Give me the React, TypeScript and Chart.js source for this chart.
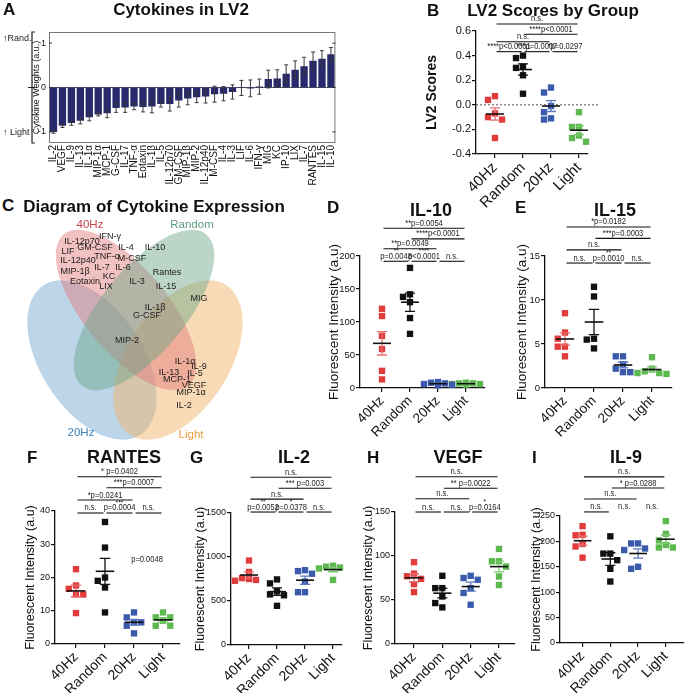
import React, { useEffect, useRef } from "react";
import { Chart, registerables } from "chart.js";

Chart.register(...registerables);

const FONT = '"Liberation Sans", Arial, Helvetica, sans-serif';
Chart.defaults.font.family = FONT;
Chart.defaults.color = "#111";

const GROUPS = ["40Hz", "Random", "20Hz", "Light"];
const GROUP_COLORS = ["#e23b3b", "#111111", "#3a5aab", "#5cb84f"];
const ERROR_COLORS = ["#e86e6e", "#111111", "#5b79c2", "#7ccb70"];

// ---------- Panel A: Cytokines in LV2 ----------
const cytokines = [
  "IL-2", "VEGF", "IL-9", "IL-13", "IL-1α", "MIP-1α", "MCP-1", "G-CSF", "IL-17", "TNF-α",
  "Eotaxin", "IL-1β", "IL-5", "IL-12p70", "GM-CSF", "MIP-1β", "MIP-2", "IL-12p40", "M-CSF", "IL-4",
  "IL-3", "LIF", "IL-6", "IFN-γ", "MIG", "KC", "IP-10", "LIX", "IL-7", "RANTES", "IL-15", "IL-10",
];
const lv2Weights = [
  -1.0, -0.86, -0.8, -0.75, -0.67, -0.61, -0.58, -0.46, -0.45, -0.43,
  -0.44, -0.43, -0.37, -0.37, -0.29, -0.25, -0.22, -0.2, -0.15, -0.14,
  -0.1, -0.01, -0.02, 0.02, 0.19, 0.2, 0.31, 0.4, 0.48, 0.6, 0.65, 0.75,
];
const lv2WeightErrors = [
  0.03, 0.04, 0.05, 0.07, 0.08, 0.03, 0.1, 0.1, 0.11, 0.07,
  0.11, 0.14, 0.07, 0.16, 0.15, 0.14, 0.12, 0.15, 0.18, 0.16,
  0.16, 0.17, 0.19, 0.17, 0.2, 0.2, 0.2, 0.2, 0.2, 0.2, 0.18, 0.15,
];
const weightTicks = [-1, 0, 1];

// ---------- Panel B: LV2 scores ----------
const lv2Scores = [
  [0.04, 0.07, -0.07, -0.1, -0.12, -0.27],
  [0.38, 0.4, 0.3, 0.31, 0.24, 0.09],
  [0.14, 0.1, -0.01, -0.12, -0.11, -0.06],
  [-0.06, -0.18, -0.18, -0.25, -0.27, -0.3],
];
const lv2Brackets = [
  [0, 3, 0.657, "n.s."],
  [1, 3, 0.573, "****p<0.0001"],
  [0, 2, 0.513, "n.s."],
  [0, 1, 0.432, "****p<0.0001"],
  [1, 2, 0.432, "***p=0.0007"],
  [2, 3, 0.432, "*p=0.0297"],
];

// ---------- Panel D: IL-10 ----------
const il10Values = [
  [120, 109, 79, 59, 26, 13],
  [182, 142, 138, 130, 106, 82],
  [9, 7, 6, 5, 8, 4],
  [8, 7, 6, 7, 5, 6],
];
const il10Brackets = [
  [0, 3, 242, "**p=0.0054"],
  [1, 3, 226, "****p<0.0001"],
  [0, 2, 211, "**p=0.0049"],
  [0, 1, 192, "p=0.0048", "**"],
  [1, 2, 192, "p<0.0001", "****"],
  [2, 3, 192, "n.s."],
];

// ---------- Panel E: IL-15 ----------
const il15Values = [
  [8.5, 6.3, 5.6, 4.7, 4.7, 3.6],
  [11.5, 10.4, 5.6, 5.5, 4.5],
  [3.6, 3.6, 2.7, 1.8, 1.8, 2.2],
  [3.5, 2.2, 1.9, 1.7, 1.7, 1.6],
];
const il15Brackets = [
  [0, 3, 18.3, "*p=0.0182"],
  [1, 3, 17.0, "***p=0.0003"],
  [0, 2, 15.7, "n.s."],
  [0, 1, 14.2, "n.s."],
  [1, 2, 14.2, "p=0.0010", "**"],
  [2, 3, 14.2, "n.s."],
];

// ---------- Panel F: RANTES ----------
const rantesValues = [
  [22.5, 16.6, 17.6, 14.9, 14.9, 9.3],
  [36.7, 29, 19, 20, 17, 9.5],
  [9.5, 8, 6.5, 6.5, 5.5, 3.2],
  [9.5, 8, 8, 7, 5.5, 5.5],
];
const rantesBrackets = [
  [0, 3, 50.3, "* p=0.0402"],
  [1, 3, 47.0, "***p=0.0007"],
  [0, 2, 43.3, "*p=0.0241"],
  [0, 1, 39.4, "n.s."],
  [1, 2, 39.4, "p=0.0004", "***"],
  [2, 3, 39.4, "n.s."],
];
const rantesNotes = [[2.45, 25.6, "p=0.0048"]];

// ---------- Panel G: IL-2 ----------
const il2Values = [
  [960, 830, 760, 750, 740, 730],
  [745, 700, 610, 575, 565, 445],
  [840, 850, 810, 720, 600, 600],
  [900, 890, 880, 870, 860, 740],
];
const il2Brackets = [
  [0, 3, 1906, "n.s."],
  [1, 3, 1782, "*** p=0.003"],
  [0, 2, 1658, "n.s."],
  [0, 1, 1511, "p=0.0052", "**"],
  [1, 2, 1511, "p=0.0378", "*"],
  [2, 3, 1511, "n.s."],
];

// ---------- Panel H: VEGF ----------
const vegfValues = [
  [93, 80, 77, 74, 68, 59],
  [77.5, 63.5, 63.5, 54, 46.5, 41.6],
  [73, 75, 77.5, 63.5, 58, 44.6],
  [108, 94, 94, 88, 76.7, 67],
];
const vegfBrackets = [
  [0, 3, 190, "n.s."],
  [1, 3, 177, "** p=0.0022"],
  [0, 2, 165, "n.s."],
  [0, 1, 150, "n.s."],
  [1, 2, 150, "n.s."],
  [2, 3, 150, "p=0.0164", "*"],
];

// ---------- Panel I: IL-9 ----------
const il9Values = [
  [230, 213, 212, 195, 190, 168],
  [210, 176, 176, 163, 146, 121],
  [186, 196, 196, 183, 146, 150],
  [240, 215, 188, 188, 193, 202],
];
const il9Brackets = [
  [0, 3, 327, "n.s."],
  [1, 3, 305, "* p=0.0288"],
  [0, 2, 283.5, "n.s."],
  [0, 1, 258, "n.s."],
  [1, 2, 258, "n.s.", "", true],
  [2, 3, 258, "n.s.", "", true],
];

// ---------- Panel C: Venn diagram ----------
const vennSetNames = ["40Hz", "Random", "20Hz", "Light"];
const vennCytokines = [
  ["IL-12p70", 82, 27], ["IFN-γ", 110, 22], ["GM-CSF", 95, 33], ["LIF", 68, 37],
  ["IL-4", 126, 33], ["IL-10", 155, 33], ["TNF-α", 107, 42], ["M-CSF", 132, 44],
  ["IL-12p40", 78, 46], ["IL-7", 102, 53], ["IL-6", 123, 53], ["MIP-1β", 75, 57],
  ["Rantes", 167, 58], ["KC", 109, 62], ["Eotaxin", 85, 67], ["LIX", 106, 72],
  ["IL-3", 137, 67], ["IL-15", 166, 72], ["MIG", 199, 84], ["IL-1β", 155, 93],
  ["G-CSF", 147, 101], ["MIP-2", 127, 126], ["IL-1α", 185, 147], ["IL-9", 199, 152],
  ["IL-13", 169, 158], ["IL-5", 195, 159], ["MCP-1", 177, 165], ["VEGF", 194, 171],
  ["MIP-1α", 191, 178], ["IL-2", 184, 191],
];
// geometry of each set: centre x, centre y, semi-major, semi-minor, rotation (deg)
const vennEllipses = [
  [126, 95, 98, 42, 50.5],
  [144, 95, 98, 42, -50.5],
  [92, 145, 89, 51, 57],
  [178, 145, 89, 51, -57],
];
const vennNamePos = [
  [90, 10], [192, 10], [81, 218], [191, 220],
];
const vennFill = [
  "rgba(226,118,120,0.45)",
  "rgba(104,164,134,0.45)",
  "rgba(122,172,212,0.5)",
  "rgba(242,182,110,0.5)",
];
const vennNameColors = ["#c9464a", "#5f9c7f", "#3f7fb8", "#e99a3c"];

// ---------- helpers ----------
function swarm(vals: number[], thr: number, step: number) {
  const order = vals.map((_, i) => i).sort((a, b) => vals[b] - vals[a]);
  const off = new Array(vals.length).fill(0);
  const placed: number[] = [];
  const cands = [0, -step, step, -2 * step, 2 * step];
  for (const i of order) {
    for (const c of cands) {
      const ok = placed.every(
        (j) => Math.abs(vals[j] - vals[i]) >= thr || Math.abs(off[j] - c) >= step * 0.95
      );
      if (ok) {
        off[i] = c;
        break;
      }
    }
    placed.push(i);
  }
  return off;
}

function narrowText(ctx: any, t: string, x: number, y: number, size: number) {
  ctx.save();
  ctx.translate(x, y);
  ctx.scale(0.84, 1);
  ctx.font = `${size}px ${FONT}`;
  ctx.textAlign = "center";
  ctx.textBaseline = "alphabetic";
  ctx.fillText(t, 0, 0);
  ctx.restore();
}

function meanSem(vals: number[]) {
  const n = vals.length;
  const m = vals.reduce((a, b) => a + b, 0) / n;
  const sd = Math.sqrt(vals.reduce((a, b) => a + (b - m) * (b - m), 0) / (n - 1));
  return [m, sd / Math.sqrt(n)];
}

function dotExtras(p: any) {
  return {
    id: "dotExtras",
    beforeDatasetsDraw(chart: any) {
      if (!p.zeroLine) return;
      const { ctx, chartArea } = chart;
      const y0 = chart.scales.y.getPixelForValue(0);
      ctx.save();
      ctx.setLineDash([2, 2]);
      ctx.strokeStyle = "#555";
      ctx.lineWidth = 1;
      ctx.beginPath();
      ctx.moveTo(chartArea.left, y0);
      ctx.lineTo(chartArea.right + 12, y0);
      ctx.stroke();
      ctx.restore();
    },
    afterDraw(chart: any) {
      const { ctx } = chart;
      const xs = chart.scales.x;
      const ys = chart.scales.y;
      ctx.save();
      p.values.forEach((vals: number[], g: number) => {
        const [m, se] = meanSem(vals);
        const x = xs.getPixelForValue(g);
        const half = xs.getPixelForValue(g + 0.32) - x;
        const cap = xs.getPixelForValue(g + 0.18) - x;
        const yM = ys.getPixelForValue(m);
        const yT = ys.getPixelForValue(m + se);
        const yB = ys.getPixelForValue(m - se);
        ctx.strokeStyle = ERROR_COLORS[g];
        ctx.lineWidth = 1.3;
        ctx.beginPath();
        ctx.moveTo(x, yT);
        ctx.lineTo(x, yB);
        ctx.moveTo(x - cap, yT);
        ctx.lineTo(x + cap, yT);
        ctx.moveTo(x - cap, yB);
        ctx.lineTo(x + cap, yB);
        ctx.stroke();
        ctx.strokeStyle = "#111";
        ctx.lineWidth = 1.6;
        ctx.beginPath();
        ctx.moveTo(x - half, yM);
        ctx.lineTo(x + half, yM);
        ctx.stroke();
      });
      ctx.fillStyle = "#222";
      ctx.strokeStyle = "#111";
      ctx.lineWidth = 1.1;
      for (const b of p.brackets) {
        const [a, c, lev, label, stars, noLine] = b;
        const x1 = xs.getPixelForValue(a) + 1.5;
        const x2 = xs.getPixelForValue(c) - 1.5;
        const y = ys.getPixelForValue(lev);
        if (!noLine) {
          ctx.beginPath();
          ctx.moveTo(x1, y);
          ctx.lineTo(x2, y);
          ctx.stroke();
        }
        const cx = (x1 + x2) / 2;
        narrowText(ctx, label, cx, y - 2.5, 9);
        if (stars) narrowText(ctx, stars, cx, y - 8, 8);
      }
      for (const nt of p.notes || []) {
        narrowText(ctx, nt[2], xs.getPixelForValue(nt[0]), ys.getPixelForValue(nt[1]) + 3, 9);
      }
      ctx.restore();
    },
  };
}

function dotPlotConfig(p: any) {
  const spacing = (p.cat3 - p.cat0) / 3;
  const xMin = -(p.cat0 - p.axL) / spacing;
  const xMax = 3 + (p.axR - p.cat3) / spacing;
  const thr = ((p.yMax - p.yMin) * 7) / (p.axB - p.axT);
  const datasets = p.values.map((vals: number[], g: number) => {
    const off = swarm(vals, thr, 0.25);
    return {
      data: vals.map((v, i) => ({ x: g + off[i], y: v })),
      pointStyle: "rect",
      pointRadius: 4.5,
      pointBackgroundColor: GROUP_COLORS[g],
      backgroundColor: GROUP_COLORS[g],
      pointBorderWidth: 0,
      borderWidth: 0,
      clip: false,
    };
  });
  const yTicks: number[] = [];
  const nT = Math.round((p.yMax - p.yMin) / p.yStep);
  for (let i = 0; i <= nT; i++) yTicks.push(p.yMin + i * p.yStep);
  const lh = p.yTitleSize * 1.2;
  const axisGrid = {
    display: true,
    drawOnChartArea: false,
    drawTicks: true,
    color: "#111",
    lineWidth: 1.2,
  };
  return {
    type: "scatter",
    data: { datasets },
    options: {
      animation: false,
      responsive: false,
      devicePixelRatio: 1,
      events: [],
      layout: { padding: { left: 0, top: p.axT - p.ct, right: p.cl + p.cw - p.axR, bottom: 0 } },
      plugins: { legend: { display: false }, tooltip: { enabled: false } },
      scales: {
        x: {
          type: "linear",
          min: xMin,
          max: xMax,
          afterBuildTicks: (s: any) => {
            s.ticks = [0, 1, 2, 3].map((v) => ({ value: v }));
          },
          afterFit: (s: any) => {
            s.height = p.ct + p.ch - p.axB;
          },
          ticks: {
            autoSkip: false,
            minRotation: 45,
            maxRotation: 45,
            padding: 1,
            color: "#111",
            font: { size: p.xFont },
            callback: (v: number) => GROUPS[Math.round(v)] ?? "",
          },
          grid: { ...axisGrid, tickLength: 4 },
          border: { display: true, color: "#111", width: 1.3 },
        },
        y: {
          type: "linear",
          min: p.yMin,
          max: p.yMax,
          afterBuildTicks: (s: any) => {
            s.ticks = yTicks.map((v) => ({ value: v }));
          },
          afterFit: (s: any) => {
            s.width = p.axL - p.cl;
          },
          ticks: {
            padding: 1,
            color: "#111",
            font: { size: p.yFont },
            callback: (v: number) => Number(v).toFixed(p.decimals),
          },
          grid: { ...axisGrid, tickLength: 4 },
          border: { display: true, color: "#111", width: 1.3 },
          title: {
            display: true,
            text: p.yTitle,
            color: "#111",
            font: { size: p.yTitleSize, weight: p.yTitleBold ? "bold" : "normal" },
            padding: { top: p.yTitleX - p.cl - lh / 2, bottom: 0 },
          },
        },
      },
    },
    plugins: [dotExtras(p)],
  };
}

const barExtras = {
  id: "barExtras",
  beforeDatasetsDraw(chart: any) {
    const { ctx, chartArea } = chart;
    const y0 = chart.scales.y.getPixelForValue(0);
    ctx.save();
    ctx.strokeStyle = "#555";
    ctx.lineWidth = 1;
    ctx.beginPath();
    ctx.moveTo(chartArea.left, y0);
    ctx.lineTo(chartArea.right, y0);
    ctx.stroke();
    ctx.restore();
  },
  afterDatasetsDraw(chart: any) {
    const { ctx, chartArea } = chart;
    const ys = chart.scales.y;
    const meta = chart.getDatasetMeta(0);
    ctx.save();
    ctx.strokeStyle = "#3a3a3a";
    ctx.lineWidth = 1;
    meta.data.forEach((el: any, i: number) => {
      const v = lv2Weights[i];
      const e = lv2WeightErrors[i];
      const yt = ys.getPixelForValue(v + e);
      const yb = ys.getPixelForValue(v - e);
      const x = el.x;
      ctx.beginPath();
      ctx.moveTo(x, yt);
      ctx.lineTo(x, yb);
      ctx.moveTo(x - 2, yt);
      ctx.lineTo(x + 2, yt);
      ctx.moveTo(x - 2, yb);
      ctx.lineTo(x + 2, yb);
      ctx.stroke();
    });
    // frame
    ctx.strokeStyle = "#777";
    ctx.strokeRect(chartArea.left + 0.5, chartArea.top + 0.5, chartArea.width - 1, chartArea.height - 1);
    ctx.strokeStyle = "#333";
    for (const t of weightTicks) {
      const y = ys.getPixelForValue(t);
      ctx.beginPath();
      ctx.moveTo(chartArea.left, y);
      ctx.lineTo(chartArea.left + 3, y);
      ctx.moveTo(chartArea.right, y);
      ctx.lineTo(chartArea.right - 3, y);
      ctx.stroke();
    }
    // Rand. / Light bracket
    const bx = chartArea.left - 17;
    const y0 = ys.getPixelForValue(0);
    ctx.strokeStyle = "#222";
    ctx.lineWidth = 1.2;
    ctx.beginPath();
    ctx.moveTo(bx + 3, chartArea.top);
    ctx.lineTo(bx, chartArea.top);
    ctx.lineTo(bx, chartArea.bottom);
    ctx.lineTo(bx + 3, chartArea.bottom);
    ctx.moveTo(bx - 4, y0);
    ctx.lineTo(bx + 3, y0);
    ctx.stroke();
    ctx.fillStyle = "#222";
    ctx.font = `9px ${FONT}`;
    ctx.textAlign = "left";
    ctx.textBaseline = "middle";
    ctx.fillText("↑Rand.", 3, chartArea.top + 7);
    ctx.fillText("↑ Light", 3, chartArea.bottom - 10);
    ctx.restore();
  },
};

function cytokineBarConfig() {
  return {
    type: "bar",
    data: {
      labels: cytokines,
      datasets: [
        {
          data: lv2Weights,
          backgroundColor: "#27296c",
          borderWidth: 0,
          barPercentage: 0.82,
          categoryPercentage: 1,
        },
      ],
    },
    options: {
      animation: false,
      responsive: false,
      devicePixelRatio: 1,
      events: [],
      layout: { padding: { left: 0, top: 14, right: 4, bottom: 0 } },
      plugins: { legend: { display: false }, tooltip: { enabled: false } },
      scales: {
        x: {
          afterFit: (s: any) => {
            s.height = 47;
          },
          ticks: { autoSkip: false, minRotation: 90, maxRotation: 90, padding: 2, font: { size: 10 }, color: "#111" },
          grid: { display: false, drawTicks: false },
          border: { display: false },
        },
        y: {
          min: -1.25,
          max: 1.25,
          afterBuildTicks: (s: any) => {
            s.ticks = weightTicks.map((v) => ({ value: v }));
          },
          afterFit: (s: any) => {
            s.width = 49;
          },
          ticks: { padding: 3, font: { size: 9 }, color: "#111" },
          grid: { display: false, drawTicks: false },
          border: { display: false },
          title: {
            display: true,
            text: "Cytokine Weights (a.u.)",
            font: { size: 9 },
            color: "#111",
            padding: { top: 31.6, bottom: 0 },
          },
        },
      },
    },
    plugins: [barExtras],
  };
}

const vennPlugin = {
  id: "venn",
  beforeDatasetsDraw(chart: any) {
    const { ctx } = chart;
    const xs = chart.scales.x;
    const ys = chart.scales.y;
    const kx = xs.getPixelForValue(1) - xs.getPixelForValue(0);
    const ky = Math.abs(ys.getPixelForValue(1) - ys.getPixelForValue(0));
    ctx.save();
    for (const i of [2, 3, 0, 1]) {
      const e = vennEllipses[i];
      ctx.fillStyle = vennFill[i];
      ctx.beginPath();
      ctx.ellipse(
        xs.getPixelForValue(e[0]),
        ys.getPixelForValue(e[1]),
        e[2] * kx,
        e[3] * ky,
        (e[4] * Math.PI) / 180,
        0,
        Math.PI * 2
      );
      ctx.fill();
    }
    ctx.restore();
  },
  afterDatasetsDraw(chart: any) {
    const { ctx } = chart;
    ctx.save();
    ctx.textAlign = "center";
    ctx.textBaseline = "middle";
    const m0 = chart.getDatasetMeta(0);
    ctx.font = `9px ${FONT}`;
    ctx.fillStyle = "#1a1a1a";
    m0.data.forEach((el: any, i: number) => {
      ctx.fillText(vennCytokines[i][0] as string, el.x, el.y);
    });
    const m1 = chart.getDatasetMeta(1);
    ctx.font = `11.5px ${FONT}`;
    m1.data.forEach((el: any, i: number) => {
      ctx.fillStyle = vennNameColors[i];
      ctx.fillText(vennSetNames[i], el.x, el.y);
    });
    ctx.restore();
  },
};

function vennConfig() {
  return {
    type: "scatter",
    data: {
      datasets: [
        { data: vennCytokines.map((c) => ({ x: c[1], y: c[2] })), pointRadius: 0 },
        { data: vennNamePos.map((c) => ({ x: c[0], y: c[1] })), pointRadius: 0 },
      ],
    },
    options: {
      animation: false,
      responsive: false,
      devicePixelRatio: 1,
      events: [],
      layout: { padding: 0 },
      plugins: { legend: { display: false }, tooltip: { enabled: false } },
      scales: {
        x: { type: "linear", display: false, min: 0, max: 300 },
        y: { type: "linear", display: false, min: 0, max: 235, reverse: true },
      },
    },
    plugins: [vennPlugin],
  };
}

// ---------- panel layouts ----------
const panelB = {
  values: lv2Scores, brackets: lv2Brackets, zeroLine: true,
  yMin: -0.4, yMax: 0.6, yStep: 0.2, decimals: 1,
  yTitle: "LV2 Scores", yTitleBold: true, yTitleSize: 14, yTitleX: 432,
  xFont: 15, yFont: 11,
  cl: 420, ct: 15, cw: 190, ch: 200, axL: 476, axR: 588, axT: 31, axB: 154, cat0: 495, cat3: 579,
};
const FI = "Fluorescent Intensity (a.u)";
const panelD = {
  values: il10Values, brackets: il10Brackets,
  yMin: 0, yMax: 200, yStep: 50, decimals: 0,
  yTitle: FI, yTitleSize: 13.5, yTitleX: 334, xFont: 13.5, yFont: 9.5,
  cl: 318, ct: 215, cw: 172, ch: 240, axL: 360, axR: 485, axT: 256, axB: 388, cat0: 382, cat3: 466,
};
const panelE = {
  values: il15Values, brackets: il15Brackets,
  yMin: 0, yMax: 15, yStep: 5, decimals: 0,
  yTitle: FI, yTitleSize: 13.5, yTitleX: 522, xFont: 13.5, yFont: 9.5,
  cl: 503, ct: 215, cw: 185, ch: 240, axL: 545, axR: 672, axT: 256, axB: 388, cat0: 565, cat3: 652,
};
const panelF = {
  values: rantesValues, brackets: rantesBrackets, notes: rantesNotes,
  yMin: 0, yMax: 40, yStep: 10, decimals: 0,
  yTitle: FI, yTitleSize: 12.5, yTitleX: 31, xFont: 14, yFont: 9,
  cl: 8, ct: 465, cw: 177, ch: 228, axL: 55, axR: 180, axT: 511, axB: 644, cat0: 76, cat3: 163,
};
const panelG = {
  values: il2Values, brackets: il2Brackets,
  yMin: 0, yMax: 1500, yStep: 500, decimals: 0,
  yTitle: FI, yTitleSize: 12.5, yTitleX: 201, xFont: 14, yFont: 9,
  cl: 178, ct: 465, cw: 170, ch: 228, axL: 231, axR: 342, axT: 513, axB: 645, cat0: 249, cat3: 333,
};
const panelH = {
  values: vegfValues, brackets: vegfBrackets,
  yMin: 0, yMax: 150, yStep: 50, decimals: 0,
  yTitle: FI, yTitleSize: 12.5, yTitleX: 369, xFont: 14, yFont: 9,
  cl: 343, ct: 465, cw: 177, ch: 228, axL: 395, axR: 515, axT: 512, axB: 644, cat0: 414, cat3: 499,
};
const panelI = {
  values: il9Values, brackets: il9Brackets,
  yMin: 0, yMax: 250, yStep: 50, decimals: 0,
  yTitle: FI, yTitleSize: 12.5, yTitleX: 537, xFont: 14, yFont: 9,
  cl: 510, ct: 465, cw: 178, ch: 228, axL: 560, axR: 686, axT: 516, axB: 643, cat0: 583, cat3: 668,
};

function ChartBox({ left, top, width, height, build }: any) {
  const ref = useRef<HTMLCanvasElement>(null);
  useEffect(() => {
    const chart = new Chart(ref.current as HTMLCanvasElement, build());
    return () => chart.destroy();
  }, []);
  return (
    <canvas
      ref={ref}
      width={width}
      height={height}
      style={{ position: "absolute", left, top, width, height }}
    />
  );
}

function DotBox({ p }: any) {
  return <ChartBox left={p.cl} top={p.ct} width={p.cw} height={p.ch} build={() => dotPlotConfig(p)} />;
}

function Txt({ t, x, y, size, center }: any) {
  return (
    <div
      style={{
        position: "absolute",
        left: x,
        top: y,
        transform: center ? "translate(-50%, -50%)" : "translate(0, -50%)",
        fontFamily: FONT,
        fontWeight: "bold",
        fontSize: size,
        lineHeight: 1,
        whiteSpace: "nowrap",
        color: "#111",
      }}
    >
      {t}
    </div>
  );
}

export default function App() {
  return (
    <div
      style={{
        position: "absolute",
        left: 0,
        top: 0,
        width: 688,
        height: 693,
        background: "#fff",
        overflow: "hidden",
      }}
    >
      <ChartBox left={0} top={18} width={345} height={172} build={cytokineBarConfig} />
      <DotBox p={panelB} />
      <ChartBox left={0} top={215} width={300} height={235} build={vennConfig} />
      <DotBox p={panelD} />
      <DotBox p={panelE} />
      <DotBox p={panelF} />
      <DotBox p={panelG} />
      <DotBox p={panelH} />
      <DotBox p={panelI} />

      <Txt t="A" x={3} y={9} size={17} />
      <Txt t="B" x={427} y={10} size={17} />
      <Txt t="C" x={2} y={205} size={17} />
      <Txt t="D" x={327} y={207} size={17} />
      <Txt t="E" x={515} y={207} size={17} />
      <Txt t="F" x={27} y={457} size={17} />
      <Txt t="G" x={190} y={457} size={17} />
      <Txt t="H" x={367} y={457} size={17} />
      <Txt t="I" x={532} y={457} size={17} />

      <Txt t="Cytokines in LV2" x={181} y={9} size={17} center />
      <Txt t="LV2 Scores by Group" x={553} y={10} size={17} center />
      <Txt t="Diagram of Cytokine Expression" x={154} y={206} size={17} center />
      <Txt t="IL-10" x={431} y={210} size={18} center />
      <Txt t="IL-15" x={615} y={210} size={18} center />
      <Txt t="RANTES" x={124} y={457} size={18} center />
      <Txt t="IL-2" x={294} y={457} size={18} center />
      <Txt t="VEGF" x={458} y={457} size={18} center />
      <Txt t="IL-9" x={626} y={457} size={18} center />
    </div>
  );
}
